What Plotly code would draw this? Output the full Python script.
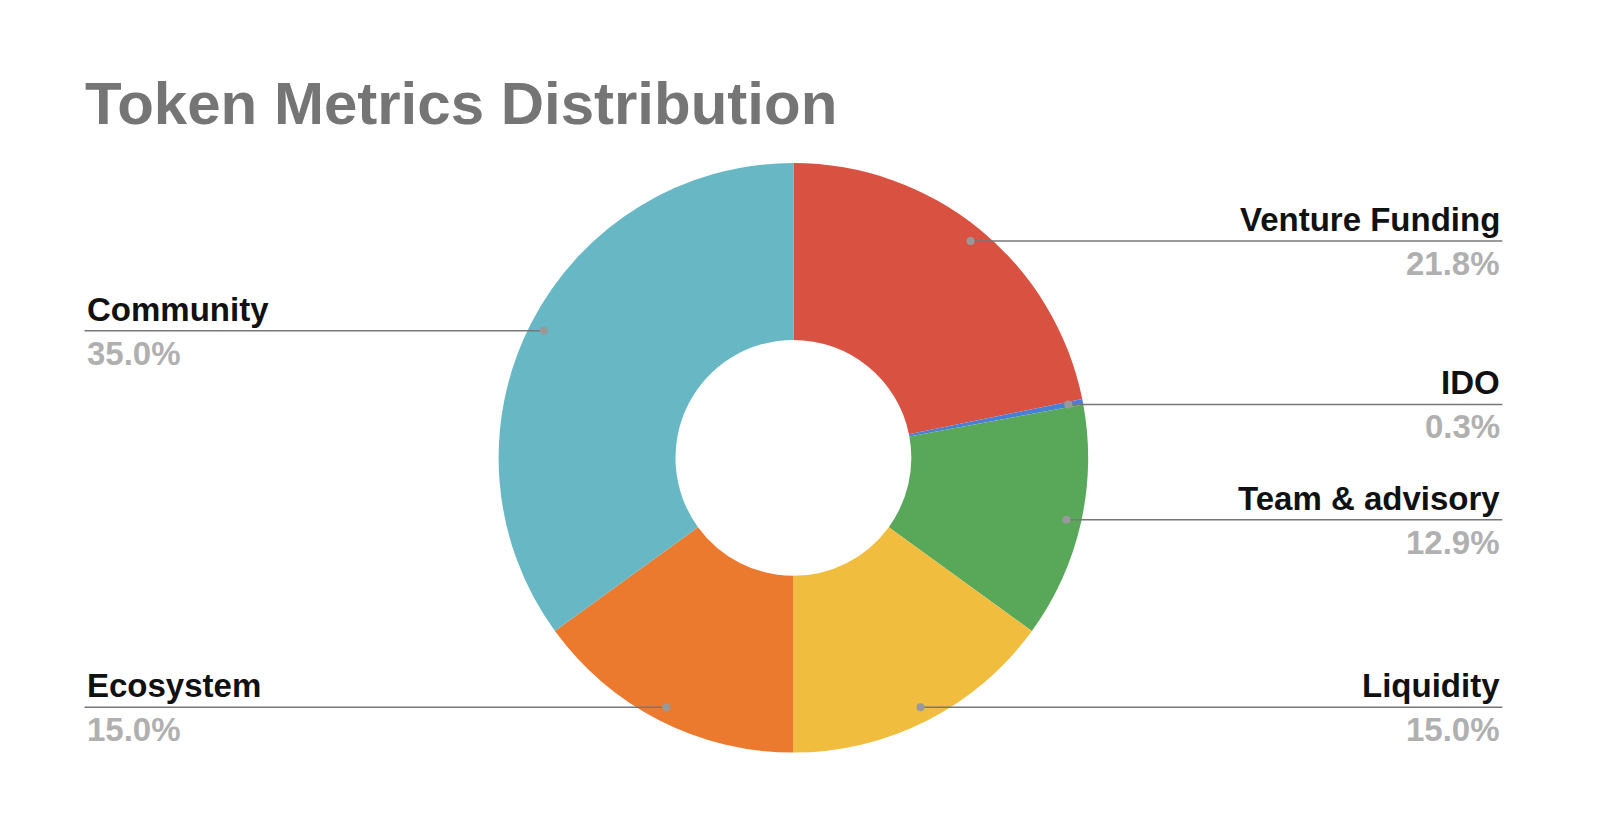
import math
import plotly.graph_objects as go

labels = ["Venture Funding", "IDO", "Team & advisory", "Liquidity", "Ecosystem", "Community"]
values = [21.8, 0.3, 12.9, 15.0, 15.0, 35.0]
colors = ["#d95140", "#4a7fd8", "#59a85a", "#f0bd3f", "#ec7a2e", "#67b8c4"]

W, H = 1600, 823
S = 1.02
cx, cy, R = 770 * S, 441 * S, 289 * S

fig = go.Figure(go.Pie(
    labels=labels, values=values, hole=0.4, sort=False, direction="clockwise",
    rotation=0, marker=dict(colors=colors, line=dict(width=0)),
    textinfo="none", hoverinfo="label+percent", showlegend=False,
    domain=dict(x=[(cx - R) / W, (cx + R) / W], y=[(H - cy - R) / H, (H - cy + R) / H]),
))

shapes, ann = [], []
total = sum(values)
cum = 0
for lab, v in zip(labels, values):
    mid = (cum + v / 2) / total * 2 * math.pi
    cum += v
    r = 0.95 * R
    px = cx + r * math.sin(mid)
    py = cy - r * math.cos(mid)
    right = px > cx
    xe = 1465 * S if right else 75 * S
    shapes.append(dict(type="line", xref="paper", yref="paper",
                       x0=px / W, x1=xe / W, y0=1 - py / H, y1=1 - py / H,
                       line=dict(color="#777777", width=1.5)))
    shapes.append(dict(type="circle", xref="paper", yref="paper",
                       x0=(px - 4) / W, x1=(px + 4) / W, y0=1 - (py - 4) / H, y1=1 - (py + 4) / H,
                       fillcolor="#999999", line=dict(width=0)))
    anchor = "right" if right else "left"
    ann.append(dict(xref="paper", yref="paper", x=xe / W, y=1 - (py - 1) / H,
                    text=f"<b>{lab}</b>", showarrow=False, xanchor=anchor, yanchor="bottom",
                    font=dict(size=33, color="#111111", family="Liberation Sans Narrow, Liberation Sans")))
    pct = 100 * v / total
    ann.append(dict(xref="paper", yref="paper", x=xe / W, y=1 - (py + 2) / H,
                    text=f"<b>{pct:.1f}%</b>", showarrow=False, xanchor=anchor, yanchor="top",
                    font=dict(size=33, color="#b0b0b0", family="Liberation Sans Narrow, Liberation Sans")))

ann.append(dict(xref="paper", yref="paper", x=74 * S / W, y=1 - 94 * S / H, text="<b>Token Metrics Distribution</b>",
                showarrow=False, xanchor="left", yanchor="middle",
                font=dict(size=60, color="#757575", family="Liberation Sans")))

fig.update_layout(width=W, height=H, margin=dict(l=0, r=0, t=0, b=0),
                  paper_bgcolor="white", plot_bgcolor="white",
                  shapes=shapes, annotations=ann)
fig.write_html("out.html")
